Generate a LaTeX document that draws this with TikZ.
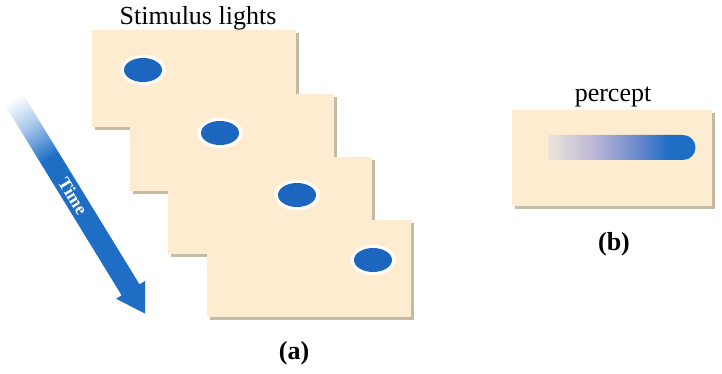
\documentclass[tikz,border=0pt]{standalone}
\usepackage{fontspec}
\setmainfont{Liberation Serif}
\usetikzlibrary{shadows,shapes.geometric}
\definecolor{cardc}{RGB}{253,236,207}
\definecolor{shadc}{RGB}{196,186,166}
\definecolor{tblue}{RGB}{30,110,198}
\definecolor{dotc}{RGB}{28,102,192}
\definecolor{pcA}{RGB}{238,228,218}
\definecolor{pcB}{RGB}{182,178,214}
\definecolor{pcC}{RGB}{96,132,202}
\pgfdeclarehorizontalshading{timeshade}{100bp}{color(0bp)=(white); color(25bp)=(white); color(31bp)=(tblue!35); color(39bp)=(tblue); color(100bp)=(tblue)}
\pgfdeclarehorizontalshading{pshade}{100bp}{color(0bp)=(pcA); color(25bp)=(pcA); color(42bp)=(pcB); color(57bp)=(pcC); color(66bp)=(tblue); color(100bp)=(tblue)}
\begin{document}
\begin{tikzpicture}[x=1pt,y=-1pt,
  card/.style={draw=none, fill=cardc, anchor=north west, inner sep=0pt,
    minimum width=204pt, minimum height=97pt,
    drop shadow={shadow xshift=3pt, shadow yshift=-3pt, fill=shadc, opacity=1}},
  halo/.style={ellipse, fill=white, minimum width=46pt, minimum height=31pt, inner sep=0pt, opacity=0.8},
  dotst/.style={ellipse, fill=dotc, minimum width=38pt, minimum height=24pt, inner sep=0pt},
  lbl/.style={font=\fontsize{26}{30}\selectfont, inner sep=0pt, anchor=base},
  blbl/.style={lbl, font=\bfseries\fontsize{26}{30}\selectfont}]
\useasboundingbox (0,0) rectangle (722,374);

% stimulus cards
\node[card] (card1) at (92,30) {};
\node[halo] (halo1) at (143,70) {};
\node[dotst] (dot1) at (143,70) {};
\node[card] (card2) at (130,94) {};
\node[halo] (halo2) at (220,133) {};
\node[dotst] (dot2) at (220,133) {};
\node[card] (card3) at (168,157) {};
\node[halo] (halo3) at (297,195) {};
\node[dotst] (dot3) at (297,195) {};
\node[card] (card4) at (207,220) {};
\node[halo] (halo4) at (373,260) {};
\node[dotst] (dot4) at (373,260) {};

% percept card
\node[card, minimum width=200pt, minimum height=96pt] (pcard) at (512,110) {};
\shade[shading=pshade] (548,135) -- (683,135) arc[start angle=-90, end angle=90, radius=12.5] -- (548,160) -- cycle;

% time arrow
\begin{scope}[transform canvas={shift={(13,98)}, rotate=-58.5}]
  \shade[shading=timeshade] (0,-10.5) -- (225,-10.5) -- (225,-17) -- (253,0) -- (225,17) -- (225,10.5) -- (0,10.5) -- cycle;
  \node[text=white, font=\bfseries\fontsize{18}{18}\selectfont, inner sep=0pt] (timelbl) at (115,0) {Time};
\end{scope}

% labels
\node[lbl] (stim) at (198,25) {Stimulus lights};
\node[lbl] (perc) at (613,102) {percept};
\node[blbl] (blab) at (614,250) {(b)};
\node[blbl] (alab) at (294,359) {(a)};
\end{tikzpicture}
\end{document}
